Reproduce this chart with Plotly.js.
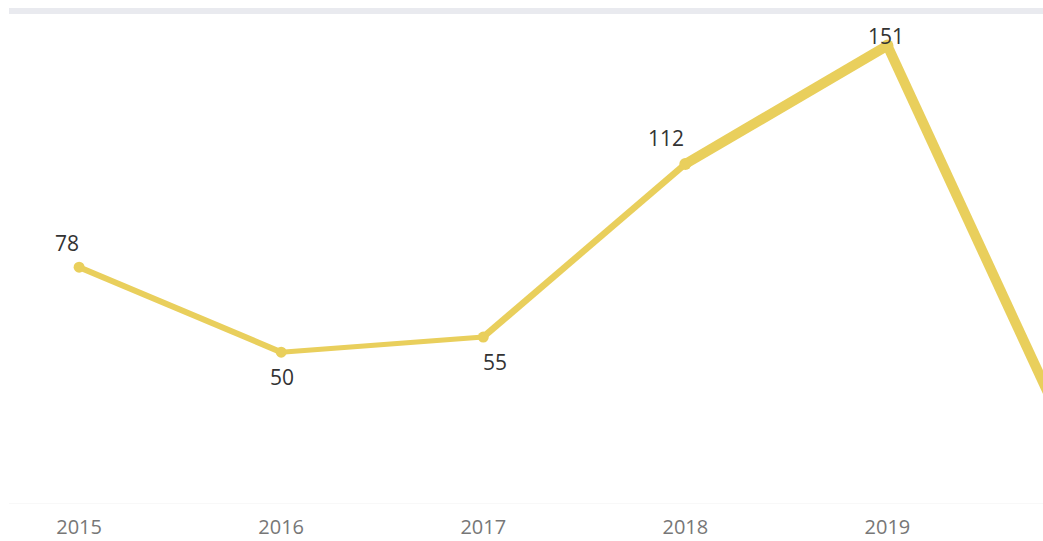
<!DOCTYPE html>
<html>
<head>
<meta charset="utf-8">
<script src="https://cdn.plot.ly/plotly-3.0.1.min.js"></script>
<style>html,body{margin:0;padding:0;background:#fff;}#chart{width:1043px;height:541px;}</style>
</head>
<body>
<div id="chart"></div>
<script>
// ---- data ----
var years = ['2015', '2016', '2017', '2018', '2019', '2020'];
var values = [78, 50, 55, 112, 151, 7];
var labelTexts = ['78', '50', '55', '112', '151'];

// ---- styling ----
var lineColor = '#E9CF5C';
var segWidths = [6, 5, 6.5, 10, 10];
var labelShift = [[-12, 24], [1, -25], [12, -25], [-19, 26], [-1, 10]];

var traces = [];
for (var i = 0; i < years.length - 1; i++) {
  traces.push({
    type: 'scatter', mode: 'lines',
    x: [years[i], years[i + 1]], y: [values[i], values[i + 1]],
    line: {color: lineColor, width: segWidths[i]},
    hoverinfo: 'skip', showlegend: false
  });
}
traces.push({
  type: 'scatter', mode: 'markers',
  x: years.slice(0, 5), y: values.slice(0, 5),
  marker: {color: lineColor, size: [11, 11, 11, 12, 12], opacity: 1, line: {width: 0}},
  showlegend: false
});

var annotations = labelTexts.map(function (t, i) {
  return {
    xref: 'x', yref: 'y',
    x: i, y: values[i], text: t, showarrow: false,
    xanchor: 'center', yanchor: 'middle',
    xshift: labelShift[i][0], yshift: labelShift[i][1],
    font: {family: 'Open Sans', size: 21, color: '#333333'}
  };
});

var layout = {
  width: 1043, height: 541,
  margin: {l: 9, r: 0, t: 11, b: 37},
  paper_bgcolor: '#ffffff', plot_bgcolor: '#ffffff',
  showlegend: false,
  xaxis: {
    type: 'category', range: [-0.347, 4.77],
    showgrid: false, zeroline: false, showline: false, ticks: '',
    tickfont: {family: 'Open Sans', size: 20, color: '#777777'},
    ticklabelstandoff: 9
  },
  yaxis: {
    range: [0, 162.4], showgrid: false, zeroline: false, showline: false,
    showticklabels: false, ticks: ''
  },
  shapes: [
    {type: 'line', xref: 'paper', yref: 'paper', x0: 0, x1: 1, y0: 1, y1: 1,
     line: {color: '#E9EAEF', width: 6}, layer: 'below'},
    {type: 'line', xref: 'paper', yref: 'y', x0: 0, x1: 1, y0: 0, y1: 0,
     line: {color: '#F0F0F0', width: 1}, layer: 'below'}
  ],
  annotations: annotations
};

Plotly.newPlot('chart', traces, layout, {displayModeBar: false});
</script>
</body>
</html>
